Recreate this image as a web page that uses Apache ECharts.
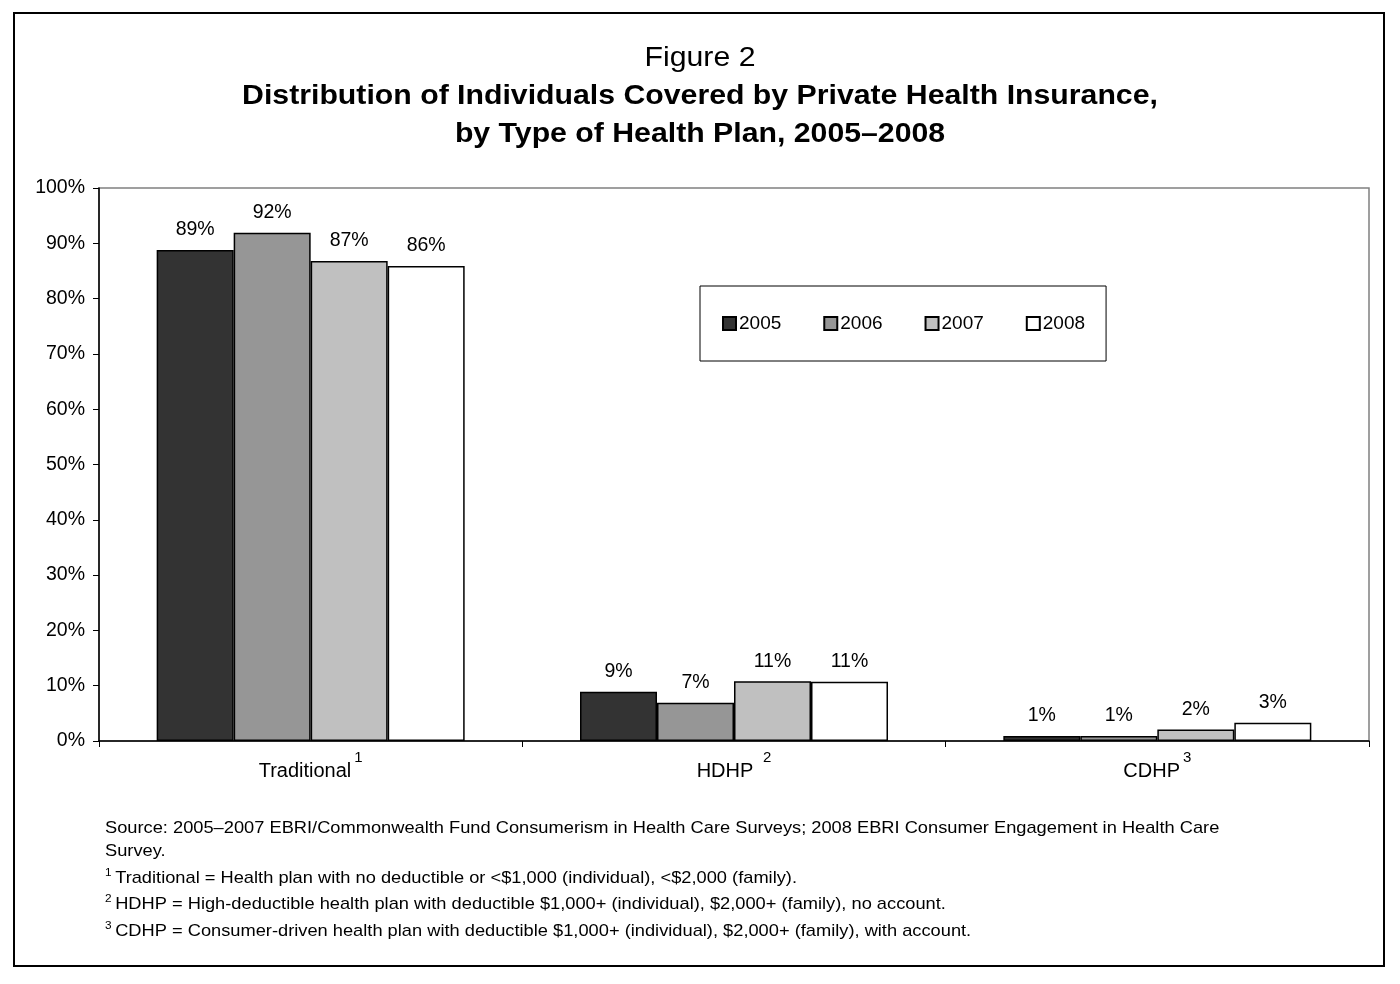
<!DOCTYPE html>
<html>
<head>
<meta charset="utf-8">
<script src="https://cdn.jsdelivr.net/npm/echarts@6/dist/echarts.min.js"></script>
<style>
html,body{margin:0;padding:0;background:#fff;}
#c{width:1400px;height:984px;}
</style>
</head>
<body>
<div id="c"></div>
<script>
const categories = ['Traditional', 'HDHP', 'CDHP'];
const superscripts = ['1', '2', '3'];
const years = ['2005', '2006', '2007', '2008'];
const v2005 = [88.8, 8.9, 0.9];
const v2006 = [91.9, 6.9, 0.9];
const v2007 = [86.8, 10.8, 2.1];
const v2008 = [85.9, 10.7, 3.3];
const yTicks = [0, 10, 20, 30, 40, 50, 60, 70, 80, 90, 100];

const colors = ['#333333', '#969696', '#c0c0c0', '#ffffff'];
const seriesData = [v2005, v2006, v2007, v2008];
const FONT = 'Liberation Sans, Arial, sans-serif';

const supRich = {
  s: { fontSize: 11, fontFamily: FONT, verticalAlign: 'top', padding: [0, 0, 8, 0], fill: '#000' },
  t: { fontSize: 17, fontFamily: FONT, verticalAlign: 'bottom', lineHeight: 20, fill: '#000' }
};

const chart = echarts.init(document.getElementById('c'));
const option = {
  backgroundColor: '#fff',
  animation: false,
  textStyle: { fontFamily: FONT },
  legend: {
    data: years,
    left: 700, top: 286,
    padding: [28, 21, 28, 22],
    borderColor: '#000', borderWidth: 1,
    itemWidth: 13, itemHeight: 13, itemGap: 42,
    icon: 'rect',
    textStyle: { fontSize: 19, color: '#000', fontFamily: FONT, padding: [0, 0, 0, -2] }
  },
  grid: { left: 99, right: 31, top: 188, bottom: 243, show: true, borderColor: '#808080', borderWidth: 1.5, backgroundColor: '#fff' },
  xAxis: {
    type: 'category',
    data: categories,
    axisLine: { lineStyle: { color: '#000', width: 1.5 } },
    axisTick: { show: true, length: 6, lineStyle: { color: '#000' } },
    axisLabel: {
      margin: 6,
      formatter: function (v, i) {
        const sep = v === 'HDHP' ? '  ' : '';
        return '{m|' + v + '}' + sep + '{s|' + superscripts[i] + '}';
      },
      rich: {
        m: { fontSize: 20, color: '#000', fontFamily: FONT, lineHeight: 48 },
        s: { fontSize: 15, color: '#000', fontFamily: FONT, verticalAlign: 'top', lineHeight: 15, padding: [3, 0, 0, 3] }
      }
    }
  },
  yAxis: {
    type: 'value', min: 0, max: 100, interval: 10,
    splitLine: { show: false },
    axisLine: { show: true, lineStyle: { color: '#000', width: 1.5 } },
    axisTick: { show: true, length: 6, lineStyle: { color: '#000' } },
    axisLabel: { formatter: '{value}%', fontSize: 19.5, color: '#000', margin: 14, fontFamily: FONT }
  },
  series: years.map((y, k) => ({
    name: y,
    type: 'bar',
    data: seriesData[k],
    barWidth: 77,
    barGap: '0%',
    itemStyle: { color: colors[k], borderColor: '#000', borderWidth: 1.5 },
    label: {
      show: true, position: 'top', distance: 10,
      fontSize: 19.5, color: '#000', fontFamily: FONT,
      formatter: p => Math.round(p.value) + '%'
    }
  })),
  graphic: [
    { type: 'rect', shape: { x: 14, y: 13, width: 1370, height: 953 }, style: { fill: 'none', stroke: '#000', lineWidth: 2 }, z: -1 },
    { type: 'text', x: 700, y: 59, scaleX: 1.12, style: { text: 'Figure 2', font: '27px ' + FONT, fill: '#000', textAlign: 'center', textVerticalAlign: 'middle' } },
    { type: 'text', x: 700, y: 97, scaleX: 1.12, style: { text: 'Distribution of Individuals Covered by Private Health Insurance,', font: 'bold 27px ' + FONT, fill: '#000', textAlign: 'center', textVerticalAlign: 'middle' } },
    { type: 'text', x: 700, y: 135, scaleX: 1.12, style: { text: 'by Type of Health Plan, 2005\u20132008', font: 'bold 27px ' + FONT, fill: '#000', textAlign: 'center', textVerticalAlign: 'middle' } },
    { type: 'text', x: 105, y: 817, scaleX: 1.074, style: {
        text: 'Source: 2005\u20132007 EBRI/Commonwealth Fund Consumerism in Health Care Surveys; 2008 EBRI Consumer Engagement in Health Care\nSurvey.',
        font: '17px ' + FONT, fill: '#000', lineHeight: 23 } },
    { type: 'text', x: 105, y: 867, scaleX: 1.074, style: {
        text: '{s|1} {t|Traditional = Health plan with no deductible or <$1,000 (individual), <$2,000 (family).}', rich: supRich } },
    { type: 'text', x: 105, y: 893, scaleX: 1.074, style: {
        text: '{s|2} {t|HDHP = High-deductible health plan with deductible $1,000+ (individual), $2,000+ (family), no account.}', rich: supRich } },
    { type: 'text', x: 105, y: 920, scaleX: 1.074, style: {
        text: '{s|3} {t|CDHP = Consumer-driven health plan with deductible $1,000+ (individual), $2,000+ (family), with account.}', rich: supRich } }
  ]
};
chart.setOption(option);
</script>
</body>
</html>
